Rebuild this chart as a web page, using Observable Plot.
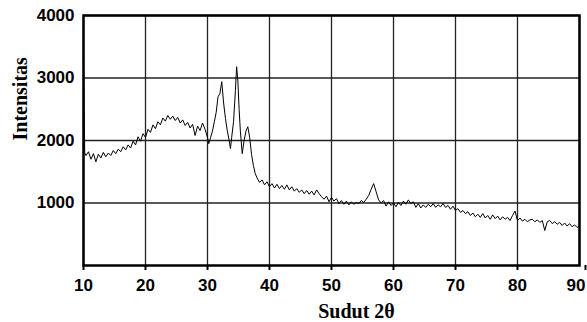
<!DOCTYPE html>
<html>
<head>
<meta charset="utf-8">
<script src="https://cdn.jsdelivr.net/npm/d3@7"></script>
<script src="https://cdn.jsdelivr.net/npm/@observablehq/plot@0.6"></script>
<style>
  html, body { margin: 0; padding: 0; background: #fff; }
  #chart svg { display: block; background: #fff; }
</style>
</head>
<body>
<div id="chart"></div>
<script>
// Axis ticks and labels
const xTicks = [10, 20, 30, 40, 50, 60, 70, 80];
const xTickLast = [90];
const yTicks = [1000, 2000, 3000, 4000];
const xLabel = "Sudut 2θ";
const yLabel = "Intensitas";

// Start of scan (explicit points)
const startAngles = [10.0, 10.1, 10.2];
const startCounts = [3300, 2500, 1800];

// Segment 1: 10.4° to 30.0°, 0.4° step
const seg1Start = 10.4, seg1Step = 0.4;
const seg1Counts = [
  1760, 1820, 1700, 1790, 1660, 1780, 1720, 1810, 1740, 1800,
  1760, 1840, 1790, 1860, 1820, 1900, 1850, 1930, 1880, 1990,
  1930, 2060, 1990, 2110, 2050, 2180, 2130, 2250, 2190, 2300,
  2250, 2360, 2310, 2400, 2340, 2390, 2320, 2370, 2280, 2330,
  2240, 2290, 2200, 2260, 2080, 2230, 2160, 2280, 2180, 2050
];

// Peak region (explicit points)
const peakAngles = [30.2, 30.5, 30.8, 31.1, 31.4, 31.7, 32.0, 32.3, 32.6, 32.9,
  33.2, 33.5, 33.7, 33.9, 34.2, 34.5, 34.7, 34.9, 35.1, 35.3,
  35.6, 35.9, 36.2, 36.5, 36.8, 37.1, 37.4, 37.7, 38.0];
const peakCounts = [1950, 2050, 2150, 2300, 2450, 2700, 2750, 2940, 2600, 2350,
  2150, 2000, 1870, 2050, 2300, 2800, 3180, 2950, 2500, 2150,
  1790, 2000, 2150, 2220, 2050, 1780, 1600, 1470, 1400];

// Segment 3: 38.4° to 90.0°, 0.4° step
const seg3Start = 38.4, seg3Step = 0.4;
const seg3Counts = [
  1330, 1370, 1290, 1340, 1260, 1310, 1240, 1300, 1230, 1280,
  1220, 1290, 1210, 1260, 1190, 1230, 1170, 1210, 1150, 1200,
  1140, 1190, 1130, 1210, 1150, 1100, 1060, 1110, 1020, 1090,
  1030, 1070, 990, 1040, 980, 1030, 970, 1020, 980, 1010,
  990, 1040, 1010, 1060, 1120, 1220, 1310, 1180, 1050, 1000,
  1040, 950, 1020, 960, 1000, 940, 1010, 960, 1030, 980,
  1050, 990, 1020, 930, 990, 920, 970, 930, 980, 940,
  990, 930, 970, 940, 990, 930, 960, 900, 950, 880,
  910, 850, 880, 830, 860, 800, 840, 780, 820, 770,
  830, 760, 800, 740, 810, 750, 790, 730, 780, 740,
  770, 720, 800, 870, 720, 760, 710, 740, 700, 730,
  740, 700, 730, 690, 720, 560, 700, 720, 670, 700,
  660, 690, 640, 680, 630, 670, 620, 650, 610, 630
];

// Build table
const data = [];
startAngles.forEach((a, i) => data.push({angle: a, count: startCounts[i]}));
seg1Counts.forEach((c, i) => data.push({angle: +(seg1Start + i * seg1Step).toFixed(2), count: c}));
peakAngles.forEach((a, i) => data.push({angle: a, count: peakCounts[i]}));
seg3Counts.forEach((c, i) => data.push({angle: +(seg3Start + i * seg3Step).toFixed(2), count: c}));

const tickFont = {fontFamily: "Liberation Sans, Arial, sans-serif", fontSize: 17, fontWeight: "bold", fill: "#000"};
const labelFont = {fontFamily: "Liberation Serif, Times New Roman, serif", fontSize: 20, fontWeight: "bold", fill: "#000"};

const chart = Plot.plot({
  width: 587,
  height: 322,
  marginLeft: 83,
  marginRight: 8,
  marginTop: 15,
  marginBottom: 57,
  style: {background: "#fff"},
  x: {domain: [10, 90]},
  y: {domain: [0, 4000]},
  marks: [
    Plot.gridX(xTicks.concat(xTickLast), {stroke: "#222", strokeOpacity: 1, strokeWidth: 1.3}),
    Plot.gridY(yTicks, {stroke: "#222", strokeOpacity: 1, strokeWidth: 1.3}),
    Plot.line(data, {x: "angle", y: "count", stroke: "#000", strokeWidth: 1}),
    Plot.frame({stroke: "#000", strokeWidth: 2.5}),
    Plot.axisX(xTicks, {tickSize: 5, tickPadding: 8, strokeWidth: 2, label: null, tickFormat: d => String(d), ...tickFont}),
    Plot.axisX(xTickLast, {tickSize: 5, tickPadding: 8, strokeWidth: 2, label: null, tickFormat: d => String(d), textAnchor: "end", dx: 6, ...tickFont}),
    Plot.axisY(yTicks, {tickSize: 0, tickPadding: 9, label: null, tickFormat: d => String(d), ...tickFont}),
    Plot.text([xLabel], {text: d => d, frameAnchor: "bottom", dx: 25, dy: 52, ...labelFont}),
    Plot.text([yLabel], {text: d => d, frameAnchor: "left", dx: -63, rotate: -90, ...labelFont})
  ]
});
document.getElementById("chart").appendChild(chart);
</script>
</body>
</html>
